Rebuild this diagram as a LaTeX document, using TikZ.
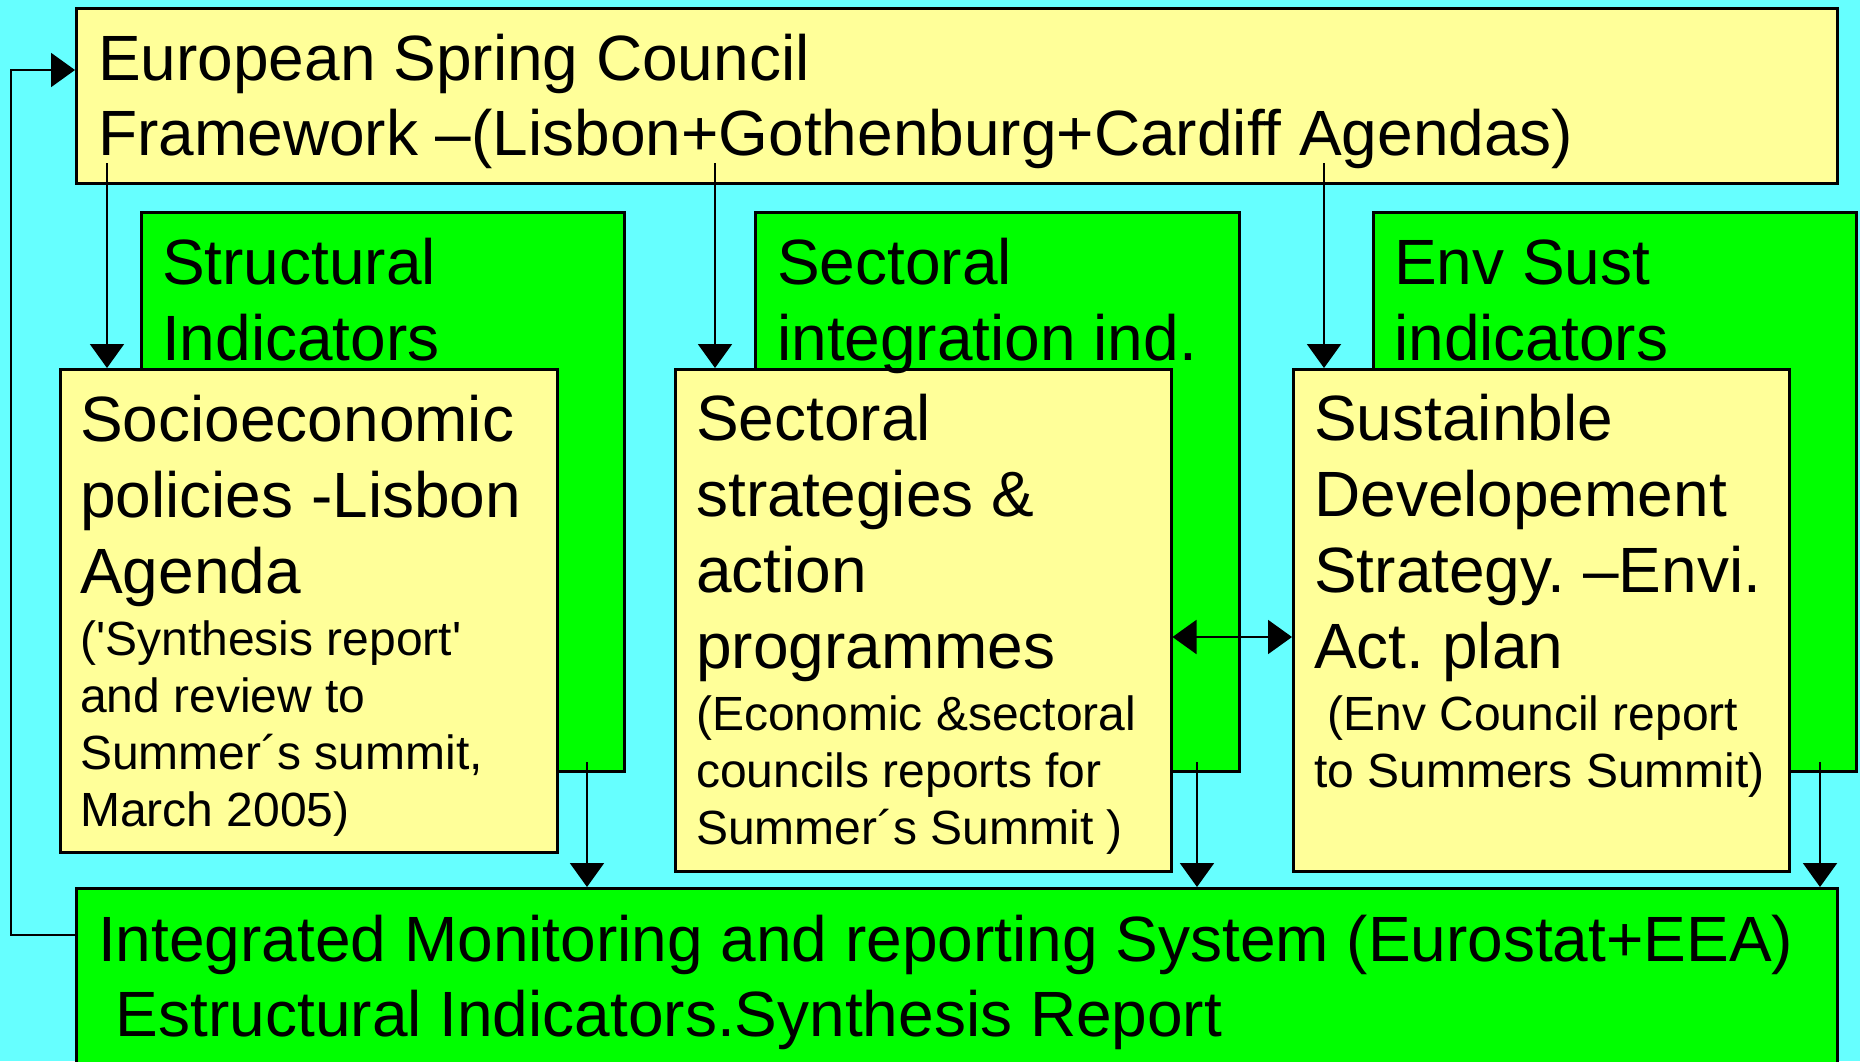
\documentclass[tikz,border=0pt]{standalone}
\usepackage{fontspec}
\newfontfamily\arialf{Liberation Sans}
\usetikzlibrary{arrows.meta}
\definecolor{bgc}{HTML}{66FFFF}
\definecolor{yel}{HTML}{FFFF99}
\definecolor{grn}{HTML}{00FF00}
\newcommand{\bigf}{\arialf\frenchspacing\fontsize{64}{76}\selectfont}
\newcommand{\smallf}{\arialf\frenchspacing\fontsize{48}{57}\selectfont}
\tikzset{
  ybox/.style={draw, line width=2.5pt, fill=yel, anchor=north west, inner sep=0pt},
  gbox/.style={draw, line width=2.5pt, fill=grn, anchor=north west, inner sep=0pt},
  txt/.style={anchor=base west, inner sep=0pt, align=left},
  arr/.style={draw, line width=2pt, -{Triangle[length=24pt,width=34pt]}},
  darr/.style={draw, line width=2pt, {Triangle[length=24pt,width=34pt]}-{Triangle[length=24pt,width=34pt]}}
}
\begin{document}
\begin{tikzpicture}[x=1pt,y=-1pt]
\useasboundingbox (0,0) rectangle (1860,1061);
\clip (0,0) rectangle (1860,1061);
\fill[bgc] (0,0) rectangle (1860,1061);

% boxes
\node[ybox, minimum width=1761pt, minimum height=175pt] (top) at (75,7) {};
\node[gbox, minimum width=483pt, minimum height=559pt] (g1) at (140,211) {};
\node[gbox, minimum width=484pt, minimum height=559pt] (g2) at (754,211) {};
\node[gbox, minimum width=483pt, minimum height=559pt] (g3) at (1372,211) {};
\node[ybox, minimum width=497pt, minimum height=483pt] (y1) at (59,368) {};
\node[ybox, minimum width=496pt, minimum height=502pt] (y2) at (674,368) {};
\node[ybox, minimum width=496pt, minimum height=502pt] (y3) at (1292,368) {};
\node[gbox, minimum width=1761pt, minimum height=260pt] (bot) at (75,887) {};

% texts
\node[txt] (ttop) at (98,80) {\vtop{\bigf\baselineskip=75pt
  \hbox{European Spring Council}
  \hbox{Framework –(Lisbon+Gothenburg+Cardiff Agendas)}}};
\node[txt] (tg1) at (162,284) {\vtop{\bigf
  \hbox{Structural}\hbox{Indicators}}};
\node[txt] (tg2) at (777,284) {\vtop{\bigf
  \hbox{Sectoral}\hbox{integration ind.}}};
\node[txt] (tg3) at (1394,284) {\vtop{\bigf
  \hbox{Env Sust}\hbox{indicators}}};
\node[txt] (ty1) at (80,441) {\vtop{\bigf
  \hbox{Socioeconomic}\hbox{policies -Lisbon}\hbox{Agenda}
  \smallf\baselineskip=62pt
  \hbox{('Synthesis report'}\baselineskip=57pt
  \hbox{and review to}\hbox{Summer´s summit,}\hbox{March 2005)}}};
\node[txt] (ty2) at (696,440) {\vtop{\bigf
  \hbox{Sectoral}\hbox{strategies \&}\hbox{action}\hbox{programmes}
  \smallf\baselineskip=62pt
  \hbox{(Economic \&sectoral}\baselineskip=57pt
  \hbox{councils reports for}\hbox{Summer´s Summit )}}};
\node[txt] (ty3) at (1314,440) {\vtop{\bigf
  \hbox{Sustainble}\hbox{Developement}\hbox{Strategy. –Envi.}\hbox{Act. plan}
  \smallf\baselineskip=62pt
  \hbox{\ (Env Council report}\baselineskip=57pt
  \hbox{to Summers Summit)}}};
\node[txt] (tbot) at (98,961) {\vtop{\bigf\baselineskip=75pt
  \hbox{Integrated Monitoring and reporting System (Eurostat+EEA)}
  \hbox{\ Estructural Indicators.Synthesis Report}}};

% connectors
\coordinate (s1) at (107,163);
\coordinate (s2) at (715,163);
\coordinate (s3) at (1324,163);
\draw[arr] (s1) -- (s1 |- y1.north);
\draw[arr] (s2) -- (s2 |- y2.north);
\draw[arr] (s3) -- (s3 |- y3.north);
\coordinate (d1) at (587,762);
\coordinate (d2) at (1197,762);
\coordinate (d3) at (1820,762);
\draw[arr] (d1) -- (d1 |- bot.north);
\draw[arr] (d2) -- (d2 |- bot.north);
\draw[arr] (d3) -- (d3 |- bot.north);
\coordinate (dm) at (1230,637);
\draw[darr] (dm -| y2.east) -- (dm -| y3.west);
\coordinate (lp) at (11,935);
\coordinate (lq) at (11,70);
\draw[arr] (lp -| bot.west) -- (lp) -- (lq) -- (lq -| top.west);
\end{tikzpicture}
\end{document}
